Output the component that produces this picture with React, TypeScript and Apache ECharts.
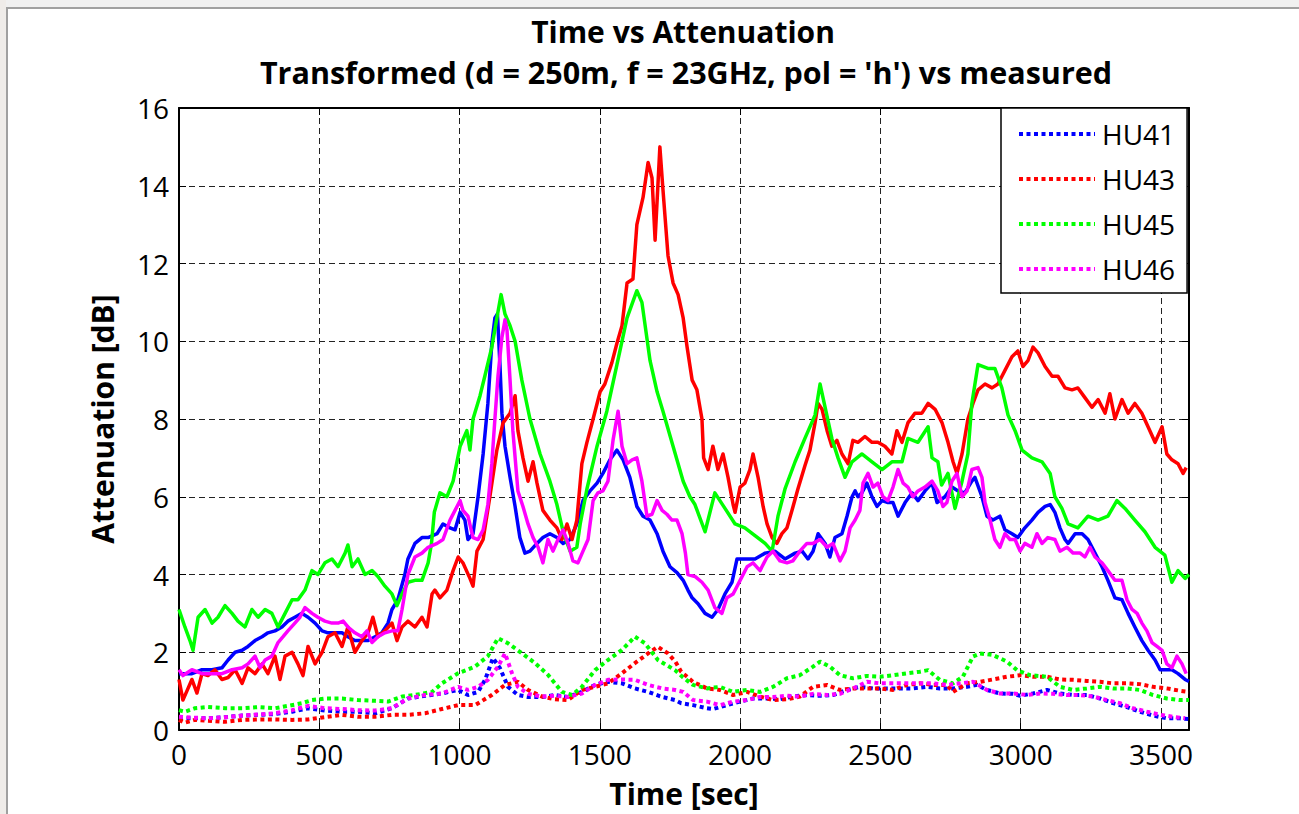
import React, { useEffect, useRef } from "react";
import * as echarts from "echarts";

// Time [sec] / attenuation [dB] readings
const hu41Measured = [[0,1.45],[46,1.45],[82,1.55],[118,1.55],[153,1.6],[175,1.8],[200,2.0],[225,2.05],[246,2.15],[271,2.3],[296,2.4],[317,2.5],[342,2.55],[367,2.65],[388,2.8],[413,2.9],[438,3.0],[460,2.9],[485,2.75],[510,2.55],[531,2.5],[556,2.5],[581,2.5],[602,2.4],[627,2.3],[652,2.3],[674,2.3],[699,2.4],[723,2.5],[745,2.75],[759,3.1],[780,3.35],[805,4.0],[816,4.4],[841,4.8],[866,4.95],[888,4.95],[920,5.05],[941,5.3],[966,5.2],[984,5.15],[1002,5.6],[1019,5.4],[1030,4.9],[1048,5.05],[1066,6.0],[1084,7.1],[1101,8.4],[1115,9.95],[1126,10.6],[1135,10.7],[1144,9.4],[1151,8.15],[1162,7.3],[1180,6.5],[1198,5.75],[1215,4.95],[1233,4.55],[1251,4.6],[1276,4.8],[1297,4.95],[1322,5.05],[1347,4.95],[1369,4.8],[1394,4.9],[1418,5.3],[1440,5.9],[1465,6.15],[1490,6.35],[1511,6.6],[1536,6.95],[1561,7.2],[1583,6.95],[1607,6.5],[1632,5.75],[1654,5.5],[1679,5.4],[1704,5.05],[1725,4.6],[1750,4.2],[1775,4.05],[1797,3.85],[1814,3.6],[1829,3.4],[1850,3.25],[1875,3.0],[1900,2.9],[1921,3.1],[1946,3.5],[1971,3.8],[1989,4.4],[2017,4.4],[2053,4.4],[2089,4.55],[2124,4.6],[2160,4.4],[2196,4.55],[2221,4.6],[2242,4.4],[2260,4.6],[2278,5.05],[2303,4.8],[2320,4.45],[2338,4.95],[2363,5.05],[2381,5.5],[2399,6.0],[2410,6.15],[2420,6.0],[2434,6.1],[2452,6.35],[2470,6.0],[2488,5.75],[2506,5.9],[2527,5.85],[2545,5.85],[2563,5.5],[2588,5.85],[2613,6.1],[2634,5.9],[2659,6.15],[2684,6.35],[2702,5.85],[2730,6.0],[2755,6.25],[2777,6.15],[2801,6.1],[2826,6.4],[2837,6.5],[2862,6.0],[2880,5.5],[2901,5.4],[2926,5.5],[2944,5.15],[2969,5.05],[2990,4.95],[3015,5.2],[3040,5.4],[3062,5.6],[3087,5.75],[3105,5.8],[3122,5.6],[3140,5.2],[3158,4.9],[3169,4.8],[3194,5.05],[3219,5.05],[3240,4.9],[3265,4.55],[3290,4.2],[3311,3.85],[3336,3.4],[3361,3.35],[3383,3.0],[3407,2.65],[3432,2.3],[3454,2.05],[3479,1.8],[3497,1.55],[3514,1.55],[3539,1.55],[3561,1.45],[3586,1.3],[3600,1.25]];

const hu43Measured = [[0,1.3],[14,0.77],[28,1.0],[46,1.3],[64,0.95],[82,1.45],[103,1.4],[128,1.55],[153,1.3],[175,1.35],[200,1.55],[225,1.2],[246,1.6],[271,1.45],[296,1.7],[317,1.45],[342,1.9],[360,1.3],[378,1.9],[403,2.0],[424,1.7],[442,1.4],[460,2.15],[485,1.7],[510,2.0],[531,2.4],[556,2.5],[581,2.15],[602,2.65],[627,2.0],[652,2.3],[674,2.5],[691,2.9],[709,2.4],[734,2.55],[759,2.75],[777,2.3],[795,2.65],[816,2.8],[841,2.65],[866,2.9],[884,2.65],[902,3.5],[912,3.6],[930,3.4],[955,3.6],[977,4.1],[995,4.45],[1012,4.3],[1037,3.9],[1048,3.7],[1062,4.6],[1084,4.9],[1108,6.0],[1133,7.2],[1155,7.9],[1180,8.15],[1198,8.6],[1208,7.7],[1226,7.0],[1244,6.4],[1262,6.9],[1276,6.35],[1297,5.65],[1322,5.4],[1347,5.2],[1365,4.9],[1383,5.3],[1401,4.9],[1418,5.4],[1436,6.85],[1454,7.4],[1476,8.0],[1501,8.7],[1518,8.9],[1543,9.45],[1561,9.95],[1579,10.4],[1597,11.5],[1618,11.6],[1632,13.0],[1654,13.7],[1672,14.6],[1686,14.2],[1697,12.6],[1714,15.0],[1725,13.9],[1743,12.2],[1761,11.5],[1779,11.2],[1797,10.6],[1811,9.85],[1829,9.0],[1846,8.75],[1864,8.0],[1870,7.0],[1886,6.7],[1903,7.3],[1921,6.7],[1939,7.1],[1957,6.5],[1975,5.8],[1982,5.6],[2000,6.25],[2017,6.35],[2035,6.7],[2046,7.1],[2064,6.5],[2082,5.75],[2096,5.3],[2114,4.95],[2131,4.8],[2149,5.05],[2167,5.2],[2185,5.65],[2206,6.2],[2231,6.8],[2249,7.2],[2267,7.9],[2278,8.4],[2292,8.25],[2310,7.7],[2327,7.3],[2345,7.45],[2363,7.1],[2385,6.85],[2402,7.45],[2420,7.4],[2445,7.55],[2470,7.4],[2491,7.4],[2516,7.3],[2541,7.1],[2559,7.7],[2577,7.4],[2598,7.9],[2623,8.15],[2648,8.15],[2670,8.4],[2695,8.25],[2720,7.9],[2741,7.4],[2759,6.9],[2773,6.6],[2791,7.1],[2812,8.0],[2830,8.4],[2848,8.75],[2873,8.9],[2898,8.8],[2919,8.9],[2944,9.25],[2969,9.6],[2990,9.75],[3008,9.35],[3026,9.5],[3044,9.85],[3062,9.7],[3087,9.35],[3112,9.1],[3133,9.1],[3158,8.8],[3183,8.75],[3204,8.8],[3229,8.55],[3254,8.3],[3276,8.5],[3301,8.15],[3318,8.65],[3336,8.0],[3361,8.5],[3383,8.15],[3407,8.4],[3432,8.15],[3454,7.8],[3479,7.4],[3504,7.8],[3521,7.1],[3539,6.95],[3561,6.85],[3579,6.6],[3590,6.75]];

const hu45Measured = [[0,3.1],[21,2.65],[39,2.3],[50,2.05],[68,2.9],[93,3.1],[118,2.75],[139,2.9],[164,3.2],[189,3.0],[210,2.8],[235,2.65],[260,3.1],[282,2.9],[307,3.1],[331,3.0],[353,2.65],[378,3.0],[403,3.35],[424,3.35],[449,3.6],[474,4.1],[495,4.0],[520,4.3],[545,4.4],[567,4.2],[592,4.55],[602,4.76],[617,4.2],[638,4.4],[663,4.0],[688,4.1],[709,3.95],[734,3.7],[759,3.5],[777,3.2],[795,3.5],[816,3.8],[841,3.85],[866,3.85],[888,4.3],[900,4.8],[910,5.6],[930,6.1],[955,6.0],[977,6.4],[1002,7.3],[1026,7.7],[1037,7.2],[1048,8.0],[1073,8.6],[1090,9.1],[1115,9.85],[1133,10.6],[1148,11.2],[1162,10.7],[1180,10.4],[1198,10.0],[1222,9.0],[1251,8.0],[1287,7.1],[1322,6.4],[1347,5.8],[1369,5.1],[1394,4.6],[1418,4.7],[1430,5.3],[1454,6.2],[1490,7.3],[1525,8.2],[1561,9.4],[1597,10.6],[1632,11.3],[1650,11.0],[1679,9.5],[1704,8.7],[1725,8.2],[1761,7.3],[1797,6.4],[1821,6.0],[1839,5.8],[1875,5.1],[1910,6.1],[1946,5.7],[1982,5.3],[2017,5.2],[2053,5.0],[2089,4.8],[2114,4.6],[2135,5.5],[2160,6.2],[2196,6.9],[2231,7.5],[2267,8.1],[2285,8.9],[2303,8.3],[2327,7.5],[2349,7.0],[2374,6.5],[2399,6.9],[2434,7.1],[2470,6.9],[2506,6.7],[2541,6.9],[2577,6.9],[2598,7.5],[2634,7.4],[2670,7.8],[2684,7.0],[2705,6.9],[2718,6.3],[2741,6.6],[2766,5.7],[2791,6.4],[2812,7.1],[2826,8.4],[2848,9.4],[2883,9.3],[2908,9.3],[2933,8.8],[2955,8.1],[2980,7.7],[3005,7.2],[3040,7.0],[3076,6.9],[3105,6.6],[3122,6.0],[3147,5.7],[3169,5.3],[3204,5.2],[3240,5.5],[3276,5.4],[3311,5.5],[3343,5.9],[3372,5.7],[3407,5.4],[3443,5.1],[3479,4.7],[3514,4.5],[3539,3.8],[3561,4.1],[3586,3.9],[3600,4.0]];

const hu46Measured = [[0,1.55],[14,1.4],[46,1.55],[82,1.45],[118,1.45],[153,1.45],[189,1.55],[225,1.6],[246,1.7],[271,1.9],[289,1.6],[307,1.8],[331,1.9],[353,2.25],[371,2.4],[388,2.55],[413,2.75],[431,2.9],[449,3.15],[474,3.0],[495,2.9],[520,2.8],[545,2.75],[567,2.75],[585,2.8],[602,2.65],[627,2.5],[652,2.4],[670,2.55],[688,2.25],[709,2.4],[734,2.5],[759,2.55],[780,2.55],[795,3.1],[816,4.0],[841,4.45],[866,4.55],[888,4.7],[920,4.8],[941,4.9],[966,5.4],[991,5.75],[1002,5.9],[1012,5.65],[1030,5.5],[1048,4.95],[1066,4.9],[1084,5.15],[1101,5.8],[1115,6.85],[1126,8.0],[1137,9.1],[1151,10.1],[1162,10.55],[1169,10.3],[1180,9.0],[1190,7.7],[1208,6.15],[1226,5.75],[1244,5.3],[1262,4.95],[1280,4.7],[1297,4.3],[1315,4.9],[1333,4.6],[1351,4.9],[1369,5.15],[1387,4.8],[1404,4.35],[1422,4.3],[1440,4.6],[1458,4.9],[1476,5.9],[1493,6.1],[1511,6.15],[1529,6.4],[1547,7.45],[1565,8.2],[1579,7.3],[1597,6.85],[1615,6.95],[1632,7.0],[1650,6.4],[1668,5.5],[1686,5.55],[1704,5.9],[1722,5.65],[1739,5.55],[1757,5.4],[1775,5.4],[1793,5.05],[1805,4.55],[1814,4.0],[1839,3.95],[1864,3.8],[1886,3.6],[1910,3.15],[1935,3.0],[1953,3.4],[1975,3.5],[2000,3.85],[2025,4.2],[2046,4.3],[2071,4.1],[2096,4.45],[2117,4.6],[2142,4.35],[2167,4.3],[2188,4.35],[2213,4.6],[2238,4.8],[2260,4.8],[2285,4.9],[2310,4.7],[2331,4.8],[2356,4.35],[2374,4.6],[2392,5.2],[2410,5.4],[2427,5.65],[2438,6.35],[2456,6.6],[2474,6.25],[2491,6.35],[2509,6.0],[2527,5.9],[2545,6.25],[2563,6.7],[2581,6.35],[2598,6.25],[2616,6.0],[2634,6.15],[2659,6.25],[2684,6.4],[2705,6.15],[2723,5.75],[2737,5.85],[2755,6.4],[2773,6.6],[2791,6.0],[2809,6.15],[2826,6.7],[2848,6.75],[2862,6.5],[2873,5.85],[2891,5.4],[2908,4.9],[2926,4.7],[2944,5.05],[2962,4.9],[2980,4.9],[2998,4.6],[3015,4.8],[3040,4.7],[3058,5.05],[3076,4.8],[3097,4.95],[3122,4.9],[3140,4.6],[3165,4.7],[3187,4.55],[3212,4.55],[3229,4.45],[3247,4.7],[3265,4.45],[3290,4.3],[3311,4.1],[3336,3.85],[3361,3.85],[3379,3.35],[3397,3.1],[3415,3.0],[3432,2.75],[3450,2.55],[3468,2.25],[3486,2.15],[3504,2.05],[3521,1.7],[3539,1.6],[3557,1.9],[3575,1.7],[3590,1.45]];

const hu41Transformed = [[0,0.3],[46,0.3],[103,0.3],[164,0.33],[225,0.37],[282,0.39],[342,0.41],[403,0.47],[460,0.56],[520,0.5],[581,0.47],[638,0.47],[699,0.43],[759,0.56],[816,0.81],[877,0.88],[937,0.94],[995,1.03],[1030,0.9],[1066,0.98],[1091,1.29],[1119,1.85],[1144,1.59],[1173,1.11],[1208,0.9],[1244,0.85],[1294,0.85],[1340,0.9],[1386,0.85],[1436,0.98],[1483,1.16],[1529,1.24],[1579,1.2],[1625,1.07],[1672,0.98],[1722,0.85],[1768,0.77],[1790,0.69],[1832,0.64],[1882,0.56],[1904,0.54],[1953,0.64],[2000,0.73],[2046,0.81],[2096,0.81],[2142,0.79],[2188,0.86],[2238,0.9],[2285,0.88],[2331,0.9],[2381,1.03],[2427,1.11],[2474,1.07],[2524,1.07],[2570,1.07],[2616,1.07],[2666,1.11],[2712,1.07],[2759,1.07],[2809,1.11],[2844,1.16],[2880,1.03],[2926,0.94],[2973,0.93],[2998,0.88],[3044,0.94],[3094,1.03],[3140,0.94],[3187,0.9],[3236,0.9],[3283,0.81],[3329,0.69],[3379,0.59],[3425,0.47],[3472,0.37],[3521,0.3],[3568,0.3],[3600,0.28]];

const hu43Transformed = [[0,0.26],[21,0.19],[57,0.26],[103,0.24],[164,0.21],[225,0.26],[282,0.27],[342,0.27],[403,0.26],[460,0.27],[520,0.33],[581,0.39],[638,0.34],[699,0.34],[759,0.39],[816,0.39],[877,0.43],[937,0.54],[995,0.64],[1055,0.64],[1115,0.9],[1162,1.16],[1208,1.24],[1244,1.03],[1294,0.86],[1340,0.79],[1386,0.77],[1436,1.03],[1483,1.11],[1529,1.2],[1579,1.46],[1625,1.72],[1672,1.97],[1707,2.14],[1743,1.97],[1770,1.75],[1790,1.5],[1832,1.24],[1882,1.07],[1928,1.03],[1975,0.9],[2025,0.98],[2071,0.86],[2117,0.77],[2167,0.79],[2213,0.86],[2260,1.11],[2310,1.16],[2356,1.03],[2402,1.07],[2452,1.07],[2499,1.07],[2545,1.03],[2595,1.16],[2641,1.2],[2688,1.16],[2737,1.16],[2759,0.98],[2809,1.2],[2855,1.24],[2901,1.3],[2951,1.37],[2998,1.41],[3044,1.37],[3094,1.37],[3140,1.3],[3187,1.29],[3236,1.26],[3283,1.24],[3329,1.2],[3379,1.2],[3425,1.18],[3472,1.11],[3521,1.07],[3568,1.01],[3600,0.98]];

const hu45Transformed = [[0,0.51],[21,0.47],[57,0.56],[103,0.59],[164,0.56],[225,0.56],[282,0.59],[342,0.56],[388,0.62],[438,0.69],[474,0.77],[520,0.81],[581,0.81],[638,0.77],[699,0.75],[745,0.73],[795,0.86],[841,0.9],[902,0.98],[937,1.2],[995,1.46],[1055,1.63],[1101,1.9],[1137,2.36],[1173,2.23],[1223,1.97],[1269,1.72],[1315,1.42],[1365,0.98],[1401,0.9],[1436,1.11],[1483,1.54],[1529,1.8],[1579,2.06],[1625,2.4],[1661,2.23],[1707,1.8],[1768,1.54],[1797,1.35],[1832,1.16],[1882,1.07],[1928,1.11],[1975,0.98],[2025,1.03],[2071,0.98],[2117,1.11],[2167,1.33],[2213,1.41],[2260,1.63],[2285,1.76],[2320,1.63],[2356,1.41],[2402,1.33],[2452,1.39],[2499,1.37],[2545,1.41],[2595,1.46],[2641,1.5],[2670,1.54],[2712,1.29],[2759,1.2],[2794,1.37],[2830,1.89],[2855,1.97],[2901,1.93],[2951,1.76],[2987,1.54],[3033,1.41],[3094,1.37],[3140,1.11],[3187,1.03],[3236,1.07],[3283,1.11],[3329,1.07],[3379,1.07],[3425,1.03],[3472,0.9],[3521,0.81],[3568,0.77],[3600,0.77]];

const hu46Transformed = [[0,0.34],[46,0.32],[103,0.3],[164,0.33],[225,0.37],[282,0.4],[342,0.43],[403,0.51],[460,0.62],[520,0.56],[581,0.54],[638,0.51],[699,0.5],[759,0.56],[816,0.81],[877,0.9],[937,0.94],[995,1.11],[1030,1.03],[1066,1.11],[1101,1.29],[1137,1.63],[1162,1.97],[1187,1.46],[1208,1.11],[1244,0.93],[1294,0.86],[1340,0.88],[1386,0.85],[1436,0.94],[1483,1.16],[1529,1.29],[1579,1.3],[1625,1.29],[1672,1.16],[1722,1.07],[1768,1.03],[1797,0.98],[1832,0.77],[1882,0.73],[1928,0.64],[1975,0.73],[2025,0.77],[2071,0.85],[2117,0.85],[2167,0.88],[2213,0.86],[2260,0.93],[2310,0.9],[2356,0.93],[2402,1.07],[2452,1.24],[2499,1.2],[2545,1.2],[2595,1.2],[2641,1.2],[2688,1.2],[2737,1.16],[2784,1.2],[2830,1.24],[2880,1.03],[2926,0.94],[2973,0.94],[3022,0.9],[3069,0.94],[3115,0.93],[3165,0.9],[3211,0.9],[3258,0.86],[3308,0.77],[3354,0.69],[3400,0.56],[3450,0.47],[3497,0.39],[3543,0.34],[3586,0.3]];

const legendNames = ["HU41", "HU43", "HU45", "HU46"];
const seriesColors = ["#0000ff", "#ff0000", "#00ff00", "#ff00ff"];
const measuredSets = [hu41Measured, hu43Measured, hu45Measured, hu46Measured];
const transformedSets = [hu41Transformed, hu43Transformed, hu45Transformed, hu46Transformed];

const FONT = "'Open Sans', 'Liberation Sans', sans-serif";
const DOT: number[] = [4, 3.5];

export default function App() {
  const ref = useRef<HTMLDivElement>(null);

  useEffect(() => {
    if (!ref.current) return;
    const chart = echarts.init(ref.current, undefined, { renderer: "svg" });

    const measuredSeries = measuredSets.map((d, i) => ({
      name: legendNames[i] + " measured",
      type: "line",
      data: d,
      symbol: "none",
      showSymbol: false,
      lineStyle: { color: seriesColors[i], width: 3.5, join: "round" },
      itemStyle: { color: seriesColors[i] },
      z: 3,
    }));
    const transformedSeries = transformedSets.map((d, i) => ({
      name: legendNames[i],
      type: "line",
      data: d,
      symbol: "none",
      showSymbol: false,
      lineStyle: { color: seriesColors[i], width: 4, type: DOT },
      itemStyle: { color: seriesColors[i] },
      z: 4,
    }));

    const baseX = { type: "value", min: 0, max: 3600, interval: 500 };
    const baseY = { type: "value", min: 0, max: 16, interval: 2 };
    const tickCommon = { show: true, inside: true, length: 7, lineStyle: { color: "#000", width: 1 } };
    const lineCommon = { show: true, onZero: false, lineStyle: { color: "#000", width: 2 } };
    const gridLine = { show: true, lineStyle: { color: "#222", width: 1, type: [6, 4] } };

    chart.setOption({
      animation: false,
      backgroundColor: "#ffffff",
      textStyle: { fontFamily: FONT },
      title: [
        {
          text: "Time vs Attenuation",
          left: 678,
          top: 11,
          textAlign: "center",
          textStyle: { fontFamily: FONT, fontSize: 30, fontWeight: "bold", color: "#000" },
        },
        {
          text: "Transformed (d = 250m, f = 23GHz, pol = 'h') vs measured",
          left: 681,
          top: 51,
          textAlign: "center",
          textStyle: { fontFamily: FONT, fontSize: 30.5, fontWeight: "bold", color: "#000" },
        },
      ],
      graphic: [
        { type: "rect", shape: { x: 0, y: 0, width: 1299, height: 8 }, style: { fill: "#f0f0f0" }, z: -10 },
        { type: "rect", shape: { x: 0, y: 0, width: 6, height: 814 }, style: { fill: "#efece9" }, z: -10 },
        { type: "line", shape: { x1: 6, y1: 8, x2: 1299, y2: 8 }, style: { stroke: "#a0a0a0", lineWidth: 2 }, z: -9 },
        { type: "line", shape: { x1: 7, y1: 8, x2: 7, y2: 814 }, style: { stroke: "#a0a0a0", lineWidth: 2 }, z: -9 },
      ],
      legend: {
        data: legendNames,
        orient: "vertical",
        left: 1001,
        top: 108,
        backgroundColor: "#ffffff",
        borderColor: "#000000",
        borderWidth: 1.5,
        borderRadius: 0,
        padding: [11, 12, 9, 16],
        itemWidth: 76,
        itemHeight: 2,
        itemGap: 15,
        itemStyle: { opacity: 0 },
        lineStyle: { width: 4, type: DOT },
        textStyle: { fontFamily: FONT, fontSize: 28, color: "#000", lineHeight: 30, padding: [0, 0, 0, 2] },
        z: 10,
      },
      grid: { left: 179, top: 108, right: 110, bottom: 84, containLabel: false },
      xAxis: [
        {
          ...baseX,
          position: "bottom",
          name: "Time [sec]",
          nameLocation: "middle",
          nameGap: 48,
          nameTextStyle: { fontFamily: FONT, fontSize: 30, fontWeight: "bold", color: "#000" },
          axisLine: lineCommon,
          axisTick: tickCommon,
          axisLabel: { show: true, margin: 10, fontFamily: FONT, fontSize: 28, color: "#000", formatter: (v: number) => String(v) },
          splitLine: gridLine,
        },
        {
          ...baseX,
          position: "top",
          axisLine: lineCommon,
          axisTick: tickCommon,
          axisLabel: { show: false },
          splitLine: { show: false },
        },
      ],
      yAxis: [
        {
          ...baseY,
          position: "left",
          name: "Attenuation [dB]",
          nameLocation: "middle",
          nameGap: 62,
          nameTextStyle: { fontFamily: FONT, fontSize: 30, fontWeight: "bold", color: "#000" },
          axisLine: lineCommon,
          axisTick: tickCommon,
          axisLabel: { show: true, margin: 10, fontFamily: FONT, fontSize: 28, color: "#000", formatter: (v: number) => String(v) },
          splitLine: gridLine,
        },
        {
          ...baseY,
          position: "right",
          axisLine: lineCommon,
          axisTick: tickCommon,
          axisLabel: { show: false },
          splitLine: { show: false },
        },
      ],
      series: [...measuredSeries, ...transformedSeries],
    });

    return () => {
      chart.dispose();
    };
  }, []);

  return (
    <div
      ref={ref}
      style={{ position: "absolute", left: 0, top: 0, width: 1299, height: 814, background: "#fff" }}
    />
  );
}
